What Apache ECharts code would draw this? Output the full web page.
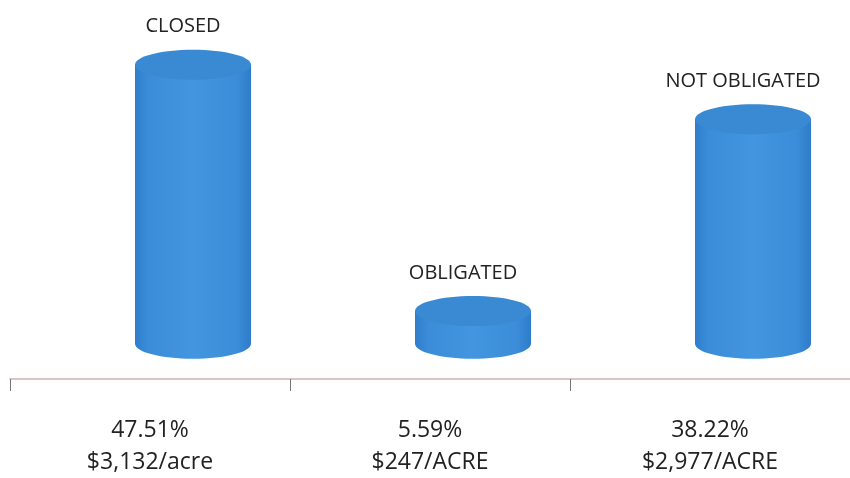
<!DOCTYPE html>
<html>
<head>
<meta charset="utf-8">
<script src="https://cdn.jsdelivr.net/npm/echarts@6/dist/echarts.min.js"></script>
<style>
html,body{margin:0;padding:0;background:#fff;}
#chart{width:850px;height:478px;}
</style>
</head>
<body>
<div id="chart"></div>
<script>
// Data
var names = ['CLOSED', 'OBLIGATED', 'NOT OBLIGATED'];
var axisLabels = ['47.51%\n$3,132/acre', '5.59%\n$247/ACRE', '38.22%\n$2,977/ACRE'];
var values = [47.51, 5.59, 38.22];

var chart = echarts.init(document.getElementById('chart'));

var CYL_W = 116;   // cylinder width (px)
var RY = 15;       // ellipse half-height
var X_OFF = 43;    // perspective offset of cylinders from band centre

function renderCylinder(params, api) {
  var idx = api.value(0);
  var v = api.value(1);
  var top = api.coord([idx, v]);
  var base = api.coord([idx, 0]);
  var cx = top[0] + X_OFF;
  var x0 = cx - CYL_W / 2;
  var bodyGrad = new echarts.graphic.LinearGradient(0, 0, 1, 0, [
    {offset: 0, color: '#2e7ecb'},
    {offset: 0.12, color: '#3b8dd9'},
    {offset: 0.5, color: '#4295de'},
    {offset: 0.88, color: '#3b8dd9'},
    {offset: 1, color: '#2d7cc8'}
  ]);
  return {
    type: 'group',
    children: [
      {
        type: 'ellipse',
        shape: {cx: cx, cy: base[1], rx: CYL_W / 2, ry: RY},
        style: {fill: bodyGrad}
      },
      {
        type: 'rect',
        shape: {x: x0, y: top[1], width: CYL_W, height: base[1] - top[1]},
        style: {fill: bodyGrad}
      },
      {
        type: 'ellipse',
        shape: {cx: cx, cy: top[1], rx: CYL_W / 2, ry: RY},
        style: {fill: '#3a89d3'}
      },
      {
        type: 'text',
        style: {
          text: names[idx],
          x: cx - 10,
          y: top[1] - RY - 13,
          align: 'center',
          verticalAlign: 'bottom',
          fill: '#222',
          font: '20px "Open Sans", sans-serif'
        }
      }
    ]
  };
}

var seriesData = values.map(function (v, i) { return [i, v]; });

chart.setOption({
  animation: false,
  grid: {left: 10, right: 0, top: 3, bottom: 98},
  xAxis: {
    type: 'category',
    data: axisLabels,
    boundaryGap: true,
    axisLine: {onZero: false, lineStyle: {color: '#d4b0b4', width: 1.5}},
    axisTick: {show: true, length: 12, lineStyle: {color: '#777'}},
    axisLabel: {
      color: '#222',
      fontSize: 23,
      fontFamily: '"Open Sans", sans-serif',
      lineHeight: 32,
      margin: 35
    }
  },
  yAxis: {
    type: 'value',
    min: -6,
    max: 58,
    show: false,
    splitLine: {show: false}
  },
  series: [{
    type: 'custom',
    renderItem: renderCylinder,
    data: seriesData,
    clip: false
  }]
});
</script>
</body>
</html>
